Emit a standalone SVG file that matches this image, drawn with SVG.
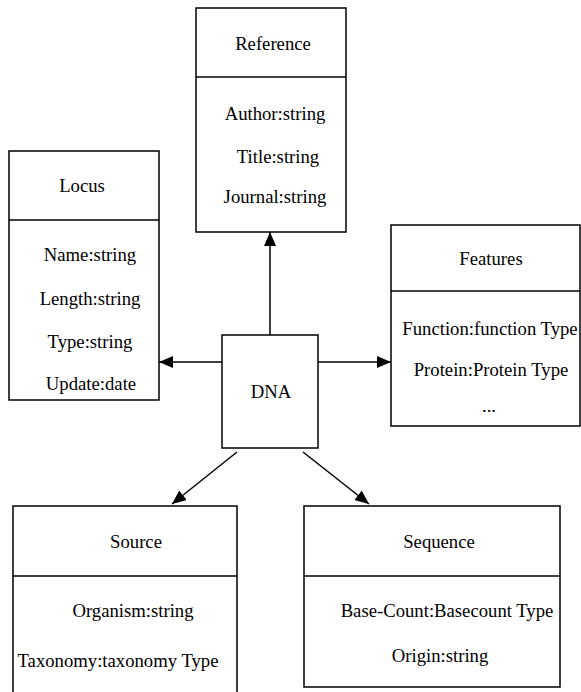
<svg xmlns="http://www.w3.org/2000/svg" width="581" height="692" viewBox="0 0 581 692">
<defs>
<marker id="arr" markerUnits="userSpaceOnUse" markerWidth="15" markerHeight="12" refX="14" refY="6" orient="auto">
<path d="M0,0 L14,6 L0,12 Z" fill="#000"/>
</marker>
<style>
rect,line.div{fill:#fff;stroke:#000;stroke-width:1.5}
line.div{fill:none}
text{font-family:"Liberation Serif","Times New Roman",serif;font-size:18.7px;fill:#000;text-anchor:middle}
.conn line{stroke:#000;stroke-width:1.5;marker-end:url(#arr)}
</style>
</defs>
<rect x="0" y="0" width="581" height="692" style="stroke:none;fill:#fff"/>
<g id="reference">
<rect x="196" y="8" width="150" height="224"/>
<line class="div" x1="196" y1="77" x2="346" y2="77"/>
<text x="273" y="50">Reference</text>
<text x="275" y="120">Author:string</text>
<text x="278" y="163">Title:string</text>
<text x="275" y="203">Journal:string</text>
</g>
<g id="locus">
<rect x="9" y="151" width="150" height="249"/>
<line class="div" x1="9" y1="220" x2="159" y2="220"/>
<text x="82" y="192">Locus</text>
<text x="90" y="261">Name:string</text>
<text x="90" y="305">Length:string</text>
<text x="90" y="348">Type:string</text>
<text x="91" y="390">Update:date</text>
</g>
<g id="features">
<rect x="391" y="225" width="189" height="201"/>
<line class="div" x1="391" y1="291" x2="580" y2="291"/>
<text x="491" y="265">Features</text>
<text x="490" y="335">Function:function Type</text>
<text x="491" y="376">Protein:Protein Type</text>
<text x="489" y="412">...</text>
</g>
<g id="dna">
<rect x="222" y="335" width="96" height="113"/>
<text x="271" y="398">DNA</text>
</g>
<g id="source">
<rect x="13" y="506" width="224" height="200"/>
<line class="div" x1="13" y1="576" x2="237" y2="576"/>
<text x="136" y="548">Source</text>
<text x="133" y="617">Organism:string</text>
<text x="118" y="667">Taxonomy:taxonomy Type</text>
</g>
<g id="sequence">
<rect x="304" y="506" width="256" height="181"/>
<line class="div" x1="304" y1="576" x2="560" y2="576"/>
<text x="439" y="548">Sequence</text>
<text x="447" y="617">Base-Count:Basecount Type</text>
<text x="440" y="662">Origin:string</text>
</g>
<g class="conn" id="connectors">
<line x1="270" y1="335" x2="270" y2="232"/>
<line x1="222" y1="362" x2="159" y2="362"/>
<line x1="318" y1="362" x2="391" y2="362"/>
<line x1="237" y1="452" x2="172" y2="504"/>
<line x1="303" y1="452" x2="369" y2="504"/>
</g>
</svg>
